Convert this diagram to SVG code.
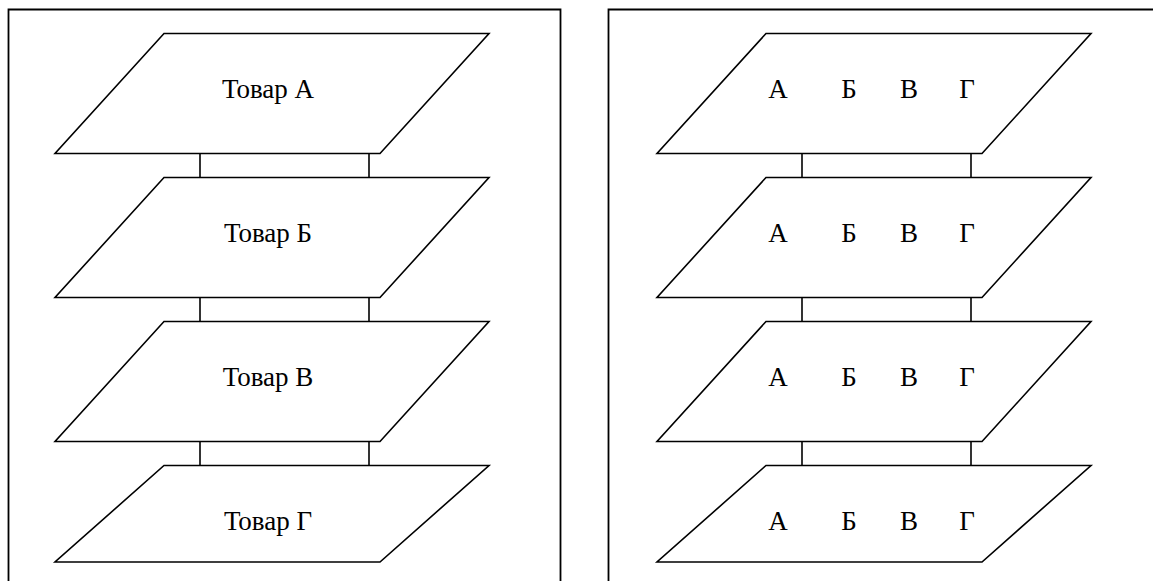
<svg xmlns="http://www.w3.org/2000/svg" width="1153" height="581" viewBox="0 0 1153 581">
<style>
.frame{fill:none;stroke:#000;stroke-width:1.8}
.p{fill:#fff;stroke:#000;stroke-width:1.6}
.c{stroke:#000;stroke-width:1.6;fill:none}
text{font-family:"Liberation Serif","Times New Roman",serif;font-size:27px;fill:#000;text-anchor:middle}
</style>
<rect width="1153" height="581" fill="#fff"/>
<g id="frames">
<path class="frame" d="M8.5,582 V9.5 H560.5 V582"/>
<path class="frame" d="M608.5,582 V9.5 H1160"/>
</g>
<g id="connectors">
<line class="c" x1="200" y1="153.5" x2="200" y2="177.5"/>
<line class="c" x1="369" y1="153.5" x2="369" y2="177.5"/>
<line class="c" x1="200" y1="297.5" x2="200" y2="321.5"/>
<line class="c" x1="369" y1="297.5" x2="369" y2="321.5"/>
<line class="c" x1="200" y1="441.5" x2="200" y2="465.5"/>
<line class="c" x1="369" y1="441.5" x2="369" y2="465.5"/>
<line class="c" x1="802" y1="153.5" x2="802" y2="177.5"/>
<line class="c" x1="971" y1="153.5" x2="971" y2="177.5"/>
<line class="c" x1="802" y1="297.5" x2="802" y2="321.5"/>
<line class="c" x1="971" y1="297.5" x2="971" y2="321.5"/>
<line class="c" x1="802" y1="441.5" x2="802" y2="465.5"/>
<line class="c" x1="971" y1="441.5" x2="971" y2="465.5"/>
</g>
<g id="left-a"><polygon class="p" points="164,33.5 489,33.5 380,153.5 55,153.5"/><text x="268" y="98">Товар А</text></g>
<g id="left-b"><polygon class="p" points="164,177.5 489,177.5 380,297.5 55,297.5"/><text x="268" y="242">Товар Б</text></g>
<g id="left-v"><polygon class="p" points="164,321.5 489,321.5 380,441.5 55,441.5"/><text x="268" y="386">Товар В</text></g>
<g id="left-g"><polygon class="p" points="164,465.5 489,465.5 380,562 55,562"/><text x="268" y="530">Товар Г</text></g>
<g id="right-1"><polygon class="p" points="766,33.5 1091,33.5 982,153.5 657,153.5"/><text x="778" y="98">А</text><text x="849" y="98">Б</text><text x="909" y="98">В</text><text x="967" y="98">Г</text></g>
<g id="right-2"><polygon class="p" points="766,177.5 1091,177.5 982,297.5 657,297.5"/><text x="778" y="242">А</text><text x="849" y="242">Б</text><text x="909" y="242">В</text><text x="967" y="242">Г</text></g>
<g id="right-3"><polygon class="p" points="766,321.5 1091,321.5 982,441.5 657,441.5"/><text x="778" y="386">А</text><text x="849" y="386">Б</text><text x="909" y="386">В</text><text x="967" y="386">Г</text></g>
<g id="right-4"><polygon class="p" points="766,465.5 1091,465.5 982,562 657,562"/><text x="778" y="530">А</text><text x="849" y="530">Б</text><text x="909" y="530">В</text><text x="967" y="530">Г</text></g>
</svg>
